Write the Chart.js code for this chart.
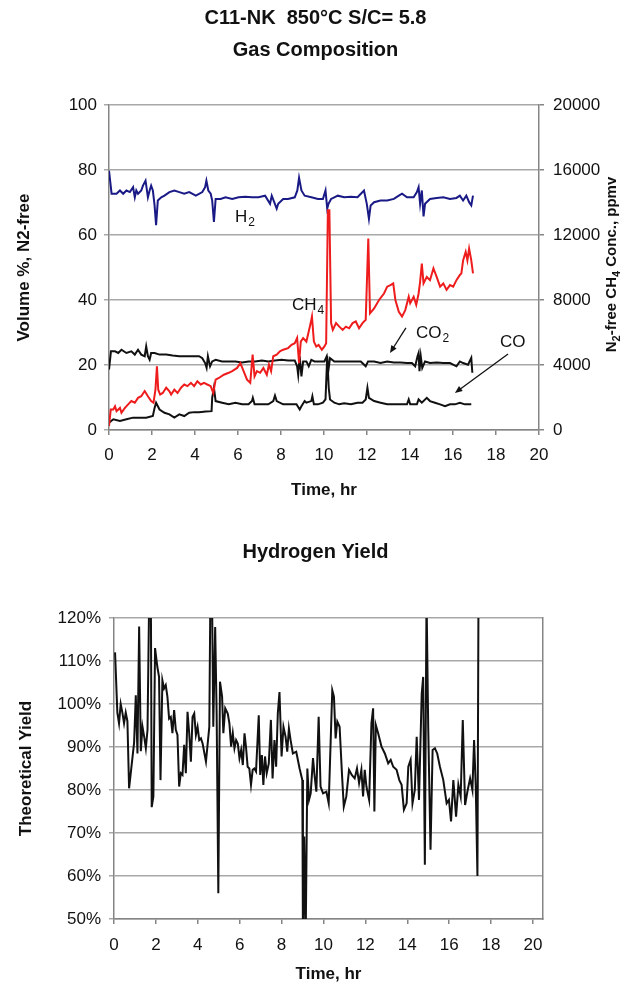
<!DOCTYPE html>
<html>
<head>
<meta charset="utf-8">
<script src="https://cdn.jsdelivr.net/npm/chart.js@4.4.1/dist/chart.umd.min.js"></script>
<style>
  html, body { margin: 0; padding: 0; background: #fff; }
  body { width: 631px; height: 991px; position: relative; overflow: hidden; }
  #gas { position: absolute; left: 0; top: 0; }
  #yield { position: absolute; left: 0; top: 510px; }
</style>
</head>
<body>
<canvas id="gas" width="631" height="510"></canvas>
<canvas id="yield" width="631" height="481"></canvas>
<script>
// time (hr), volume % N2-free
const h2 = [[0,79.8],[0.12,72.7],[0.35,72.7],[0.51,73.7],[0.66,72.7],[0.81,73.7],[0.97,73.2],[1.12,74.7],[1.2,71.6],[1.27,73.7],[1.35,72.7],[1.5,73.7],[1.58,75.2],[1.7,76.7],[1.81,71.6],[1.89,73.7],[1.96,75.2],[2.04,73.7],[2.12,69.1],[2.19,63],[2.27,70.6],[2.43,71.6],[2.58,72.1],[2.81,73.2],[3.04,73.7],[3.27,73.2],[3.5,72.7],[3.73,73.2],[4.04,72.1],[4.34,73.2],[4.47,74.7],[4.53,76.7],[4.62,73.7],[4.73,72.7],[4.8,70.6],[4.88,64],[4.96,71.1],[5.19,71.1],[5.42,71.6],[5.73,71.1],[6.03,71.6],[6.34,71.8],[6.65,71.6],[6.95,71.6],[7.26,72.1],[7.49,69.6],[7.57,72.1],[7.8,68.1],[7.87,69.6],[8.1,71.1],[8.33,71.1],[8.64,71.6],[8.76,73.7],[8.84,77.6],[8.95,73.7],[9.1,72.1],[9.41,71.6],[9.72,71.1],[9.95,71.1],[10.07,73.7],[10.15,68.1],[10.21,69.6],[10.33,71.1],[10.48,71.6],[10.64,72.1],[10.94,71.6],[11.25,71.8],[11.56,71.6],[11.86,73.7],[11.99,69.6],[12.09,65],[12.17,69.1],[12.33,70.1],[12.63,70.6],[12.94,70.6],[13.25,71.1],[13.48,72.1],[13.63,72.7],[13.86,71.6],[14.17,71.6],[14.32,73.2],[14.4,74.7],[14.47,69.6],[14.55,73.7],[14.63,65.7],[14.7,69.6],[14.93,71.1],[15.24,71.4],[15.55,71.6],[15.86,71.1],[16.16,71.4],[16.32,72.1],[16.47,70.6],[16.62,72.1],[16.75,70.1],[16.85,69.1],[16.93,72.1]];
const co2 = [[0,18.6],[0.09,24.2],[0.28,24.2],[0.43,23.7],[0.58,24.7],[0.81,23.7],[1.04,24.2],[1.2,23.2],[1.35,24.7],[1.5,23.2],[1.66,22.7],[1.73,25.7],[1.81,22.7],[1.89,21.6],[1.96,23.7],[2.12,23.7],[2.35,23.2],[2.66,23.2],[2.96,22.9],[3.27,22.7],[3.58,22.7],[3.88,22.7],[4.19,22.7],[4.34,22.1],[4.47,20.6],[4.54,19.1],[4.6,22.7],[4.7,19.6],[4.8,21.1],[4.96,21.6],[5.26,21.1],[5.57,21.1],[5.88,21.1],[6.19,20.8],[6.49,21.1],[6.8,21.1],[7.11,21.4],[7.41,21.1],[7.72,21.4],[8.03,21.6],[8.33,21.4],[8.64,21.4],[8.75,19.6],[8.8,17],[8.87,22.7],[8.95,16.5],[9.03,21.1],[9.18,21.1],[9.29,19.6],[9.41,21.6],[9.56,21.1],[9.79,21.1],[10.02,21.1],[10.13,22.7],[10.21,18.6],[10.28,22.1],[10.48,21.1],[10.79,21.1],[11.25,21.1],[11.71,21.1],[11.94,19.6],[12.05,21.1],[12.33,21.1],[12.63,20.6],[12.94,21.1],[13.25,20.8],[13.55,20.8],[13.86,20.6],[14.09,20.6],[14.24,19.6],[14.35,22.7],[14.4,23.7],[14.44,18.1],[14.5,22.7],[14.57,19.1],[14.7,21.1],[14.93,20.6],[15.24,20.8],[15.55,20.6],[15.86,20.6],[16.16,19.6],[16.32,21.1],[16.47,20.6],[16.7,20.1],[16.85,22.2],[16.9,17.6]];
const co = [[0,2.2],[0.2,3.3],[0.51,2.8],[0.81,3.3],[1.12,3.8],[1.43,3.8],[1.73,3.8],[2.04,4.3],[2.12,6.8],[2.19,8.4],[2.35,6.3],[2.58,5.3],[2.81,4.8],[3.04,3.8],[3.27,4.8],[3.5,4.3],[3.73,5.3],[3.96,5.5],[4.19,5.5],[4.5,5.7],[4.77,5.8],[4.8,9.9],[4.88,13],[4.96,8.9],[5.26,8.4],[5.57,7.9],[5.88,8.4],[6.19,7.9],[6.49,7.9],[6.65,8.9],[6.69,9.9],[6.77,7.9],[7.11,7.9],[7.41,7.9],[7.64,8.9],[7.72,10.6],[7.8,8.9],[8.1,7.9],[8.41,7.9],[8.72,7.9],[8.87,6.3],[8.95,7.3],[9.1,8.9],[9.18,8.4],[9.41,8.9],[9.46,10.4],[9.53,7.9],[9.72,7.9],[9.95,8.4],[10.07,9.4],[10.15,22.7],[10.22,13],[10.28,9.4],[10.48,8.4],[10.71,7.9],[10.94,8.2],[11.25,7.9],[11.56,8.4],[11.79,8.4],[11.94,9.4],[12.02,13],[12.09,9.9],[12.33,8.9],[12.63,8.4],[12.94,7.9],[13.25,7.9],[13.55,7.9],[13.86,7.9],[13.94,9.4],[14.01,7.9],[14.32,7.9],[14.4,9.4],[14.55,8.4],[14.78,9.9],[14.93,8.9],[15.16,8.4],[15.4,7.9],[15.63,7.3],[15.86,7.9],[16.09,7.9],[16.32,8.4],[16.55,7.9],[16.85,7.9]];
// time (hr), CH4 ppmv (right axis)
const ch4 = [[0,240],[0.08,1260],[0.2,1260],[0.28,1460],[0.35,1160],[0.51,1360],[0.58,1060],[0.74,1360],[0.89,1580],[1.04,1780],[1.2,1680],[1.35,1980],[1.5,2080],[1.66,2400],[1.81,2080],[1.96,1780],[2.07,1680],[2.16,2480],[2.23,3920],[2.29,2480],[2.38,2180],[2.5,2280],[2.66,2600],[2.81,2380],[2.89,2180],[3.04,2480],[3.19,2280],[3.35,2600],[3.5,2800],[3.65,2700],[3.81,2900],[3.96,2700],[4.11,3000],[4.27,2800],[4.42,2900],[4.57,2800],[4.73,2700],[4.85,2280],[4.96,3100],[5.11,3200],[5.34,3400],[5.57,3520],[5.73,3620],[5.96,3820],[6.11,4120],[6.26,3620],[6.42,3100],[6.57,2900],[6.68,4640],[6.77,3300],[6.88,3620],[7.03,3520],[7.18,3820],[7.34,3400],[7.44,4020],[7.54,3620],[7.64,4540],[7.8,4640],[7.95,4840],[8.1,4940],[8.33,5040],[8.49,5240],[8.64,5340],[8.75,5660],[8.84,4120],[8.92,5440],[9.03,5660],[9.18,5440],[9.29,6060],[9.38,6580],[9.44,6980],[9.53,5440],[9.64,5140],[9.75,5240],[9.9,4940],[10.02,5140],[10.1,5340],[10.18,13520],[10.25,13520],[10.33,6580],[10.41,6160],[10.56,6580],[10.71,6360],[10.87,6160],[11.02,6360],[11.17,6260],[11.33,6580],[11.48,6680],[11.63,6260],[11.79,6580],[11.94,6780],[12.06,11780],[12.14,7180],[12.33,7480],[12.56,8000],[12.79,8400],[12.94,8820],[13.09,8920],[13.22,9020],[13.32,8000],[13.48,7280],[13.63,6980],[13.78,7380],[13.94,8200],[14.01,7800],[14.17,8200],[14.29,7700],[14.4,8400],[14.47,9120],[14.55,10240],[14.63,9020],[14.78,9420],[14.93,9220],[15.09,9940],[15.24,9420],[15.4,8820],[15.55,9020],[15.7,8620],[15.86,8920],[16.01,8820],[16.16,9220],[16.32,9540],[16.39,9640],[16.47,10440],[16.59,10960],[16.67,10440],[16.75,11160],[16.85,10440],[16.93,9640]];
// time (hr), theoretical hydrogen yield %
const h2Yield = [[0.05,112],[0.16,98],[0.24,95.5],[0.32,100],[0.4,98],[0.48,95.5],[0.56,98],[0.64,96],[0.72,80.4],[0.96,91],[1.04,102],[1.12,88.5],[1.2,118],[1.28,89],[1.36,94.7],[1.44,92.4],[1.52,89.7],[1.6,94],[1.68,125],[1.76,125],[1.8,76],[1.88,78.5],[1.96,113],[2.07,108.6],[2.15,106.3],[2.22,82.3],[2.31,105.5],[2.39,103.6],[2.47,104.4],[2.55,101.7],[2.63,96.6],[2.71,97],[2.79,93.2],[2.87,98.6],[2.95,94],[3.03,92.8],[3.11,80.8],[3.19,83.9],[3.27,83.5],[3.35,90.5],[3.43,83.9],[3.51,98.2],[3.59,93.2],[3.67,86.6],[3.75,97],[3.83,97.8],[3.91,92.8],[3.99,94.7],[4.07,91.6],[4.15,92],[4.23,90.8],[4.39,86.6],[4.55,94.7],[4.6,125],[4.68,125],[4.74,94.7],[4.83,117.9],[4.9,97.8],[4.98,56],[5.06,105.2],[5.16,101.7],[5.22,93.2],[5.31,99],[5.43,97.8],[5.51,95.5],[5.59,90.1],[5.67,93.2],[5.75,89.7],[5.83,91.6],[5.91,90.8],[5.99,87.4],[6.07,89.3],[6.15,85.8],[6.23,93.2],[6.3,90.1],[6.38,85.4],[6.46,85],[6.54,81.2],[6.62,84.7],[6.7,85],[6.78,84.3],[6.91,97.4],[6.98,83.5],[7.06,88.1],[7.13,81.2],[7.21,87.8],[7.29,83.9],[7.39,86.2],[7.49,96.3],[7.57,82.7],[7.66,91.6],[7.74,85.4],[7.82,97.8],[7.9,102.8],[8.0,87.8],[8.09,94.7],[8.19,92.4],[8.27,88.9],[8.35,94.3],[8.43,91.6],[8.54,88.5],[8.7,88.9],[8.86,85],[8.99,82.3],[9.02,45],[9.08,69.2],[9.15,45],[9.23,85],[9.31,77.7],[9.39,79.2],[9.5,87.4],[9.58,83.1],[9.66,79.6],[9.77,97],[9.86,80.8],[9.98,79.2],[10.14,79.6],[10.25,76.9],[10.34,90.8],[10.42,103.2],[10.5,101.7],[10.58,92],[10.66,95.9],[10.77,94.7],[10.89,83.1],[10.97,76.1],[11.09,78.5],[11.22,84.7],[11.35,83.5],[11.49,82.7],[11.6,85],[11.7,81.6],[11.81,84.7],[11.89,78.5],[11.97,84.7],[12.05,80.8],[12.18,77.7],[12.29,95.5],[12.37,99],[12.43,75],[12.5,95.1],[12.61,93.2],[12.77,90.1],[12.93,88.5],[13.09,86.2],[13.21,87],[13.33,85.4],[13.49,84.7],[13.62,82.3],[13.73,81.2],[13.84,75.4],[13.97,76.9],[14.05,85.4],[14.16,87],[14.25,76.9],[14.36,80],[14.45,92.4],[14.56,77.7],[14.69,102.4],[14.76,106.3],[14.84,62.6],[14.92,125],[15.0,94.7],[15.11,66.1],[15.21,89.3],[15.32,89.7],[15.43,88.5],[15.56,85.4],[15.72,82.3],[15.88,76.9],[15.99,77.7],[16.09,72.7],[16.2,82.3],[16.33,73.8],[16.44,81.2],[16.55,78.5],[16.65,96.3],[16.76,76.5],[16.87,79.6],[17.0,82.7],[17.11,80],[17.19,91.6],[17.27,80.8],[17.35,60],[17.4,125]];

// in-chart labels (time, volume %) and arrows
const noteLabels = [
  { t: 5.86, v: 65.5, text: 'H', sub: '2' },
  { t: 8.51, v: 38.5, text: 'CH', sub: '4' },
  { t: 14.28, v: 29.8, text: 'CO', sub: '2' },
  { t: 18.19, v: 27.1, text: 'CO', sub: '' }
];
const noteArrows = [
  { from: [13.81, 31.4], to: [13.07, 23.7] },
  { from: [18.56, 23.4], to: [16.09, 11.4] }
];
// right axis title, split into [text, isSubscript]
const rightTitle = [['N', false], ['2', true], ['-free CH', false], ['4', true], [' Conc., ppmv', false]];

const FONT = "'Liberation Sans', Arial, sans-serif";
const GRID = '#a8a8a8';
const FRAME = '#858585';

const toXY = arr => arr.map(p => ({ x: p[0], y: p[1] }));

const notesPlugin = {
  id: 'notes',
  afterDatasetsDraw(chart) {
    const { ctx, scales } = chart;
    const xs = scales.x, ys = scales.y;
    ctx.save();
    ctx.fillStyle = '#111';
    ctx.strokeStyle = '#111';
    ctx.textBaseline = 'middle';
    ctx.textAlign = 'left';
    noteLabels.forEach(n => {
      const x = xs.getPixelForValue(n.t), y = ys.getPixelForValue(n.v);
      ctx.font = '17px ' + FONT;
      ctx.fillText(n.text, x, y);
      if (n.sub) {
        const w = ctx.measureText(n.text).width;
        ctx.font = '12px ' + FONT;
        ctx.fillText(n.sub, x + w + 1, y + 6);
      }
    });
    ctx.lineWidth = 1.3;
    noteArrows.forEach(a => {
      const x1 = xs.getPixelForValue(a.from[0]), y1 = ys.getPixelForValue(a.from[1]);
      const x2 = xs.getPixelForValue(a.to[0]), y2 = ys.getPixelForValue(a.to[1]);
      const ang = Math.atan2(y2 - y1, x2 - x1);
      ctx.beginPath();
      ctx.moveTo(x1, y1);
      ctx.lineTo(x2 - 5 * Math.cos(ang), y2 - 5 * Math.sin(ang));
      ctx.stroke();
      ctx.beginPath();
      ctx.moveTo(x2, y2);
      ctx.lineTo(x2 - 8 * Math.cos(ang - 0.4), y2 - 8 * Math.sin(ang - 0.4));
      ctx.lineTo(x2 - 8 * Math.cos(ang + 0.4), y2 - 8 * Math.sin(ang + 0.4));
      ctx.closePath();
      ctx.fill();
    });

    // right axis title, reading bottom to top like the left one
    const area = chart.chartArea;
    const big = 'bold 15px ' + FONT, small = 'bold 11px ' + FONT;
    let total = 0;
    rightTitle.forEach(([s, sub]) => { ctx.font = sub ? small : big; total += ctx.measureText(s).width; });
    ctx.translate(612, (area.top + area.bottom) / 2 - 3);
    ctx.rotate(-Math.PI / 2);
    let u = -total / 2;
    rightTitle.forEach(([s, sub]) => {
      ctx.font = sub ? small : big;
      ctx.fillText(s, u, sub ? 5 : 0);
      u += ctx.measureText(s).width;
    });
    ctx.restore();
  }
};

const whiteBg = {
  id: 'whiteBg',
  beforeDraw(chart) {
    const ctx = chart.ctx;
    ctx.save();
    ctx.fillStyle = '#fff';
    ctx.fillRect(0, 0, chart.width, chart.height);
    ctx.restore();
  }
};

function lineSet(data, color, axis) {
  return {
    data: toXY(data),
    borderColor: color,
    borderWidth: 2,
    pointRadius: 0,
    tension: 0,
    yAxisID: axis
  };
}

const tickFont = { family: FONT, size: 17 };
const titleFont = { family: FONT, size: 17, weight: 'bold' };

new Chart(document.getElementById('gas'), {
  type: 'line',
  data: {
    datasets: [
      lineSet(ch4, '#ee1c1c', 'y2'),
      lineSet(h2, '#1a1a86', 'y'),
      lineSet(co2, '#111111', 'y'),
      lineSet(co, '#111111', 'y')
    ]
  },
  options: {
    responsive: false,
    animation: false,
    layout: { padding: 0 },
    plugins: {
      legend: { display: false },
      tooltip: { enabled: false },
      title: {
        display: true,
        text: ['C11-NK  850°C S/C= 5.8', 'Gas Composition'],
        color: '#111',
        font: { family: FONT, size: 20, weight: 'bold', lineHeight: 1.6 },
        padding: { top: 2, bottom: 39 }
      }
    },
    scales: {
      x: {
        type: 'linear',
        min: 0, max: 20,
        ticks: { stepSize: 2, color: '#111', font: tickFont, padding: 10, maxRotation: 0 },
        grid: { drawOnChartArea: false, color: FRAME, tickLength: 5, lineWidth: 1.5 },
        border: { color: FRAME, width: 1.5 },
        title: { display: true, text: 'Time, hr', color: '#111', font: titleFont, padding: { top: 0, bottom: 9 } },
        afterFit: s => { s.height = 80; }
      },
      y: {
        position: 'left',
        min: 0, max: 100,
        ticks: { stepSize: 20, color: '#111', font: tickFont, padding: 7 },
        grid: { color: GRID, lineWidth: 1.5, tickLength: 5 },
        border: { color: FRAME, width: 1.5 },
        title: { display: true, text: 'Volume %, N2-free', color: '#111', font: titleFont, padding: { top: 14, bottom: 0 } },
        afterFit: s => { s.width = 109; }
      },
      y2: {
        position: 'right',
        min: 0, max: 20000,
        ticks: { stepSize: 4000, color: '#111', font: tickFont, padding: 9, callback: v => String(v) },
        grid: { drawOnChartArea: false, color: FRAME, lineWidth: 1.5, tickLength: 5 },
        border: { color: FRAME, width: 1.5 },
        afterFit: s => { s.width = 92; }
      }
    }
  },
  plugins: [whiteBg, notesPlugin]
});

new Chart(document.getElementById('yield'), {
  type: 'line',
  data: {
    datasets: [lineSet(h2Yield, '#111111', 'y')]
  },
  options: {
    responsive: false,
    animation: false,
    layout: { padding: 0 },
    plugins: {
      legend: { display: false },
      tooltip: { enabled: false },
      title: {
        display: true,
        text: 'Hydrogen Yield',
        color: '#111',
        font: { family: FONT, size: 20, weight: 'bold', lineHeight: 1.2 },
        padding: { top: 30, bottom: 54 }
      }
    },
    scales: {
      x: {
        type: 'linear',
        min: 0, max: 20.48,
        ticks: { stepSize: 2, includeBounds: false, color: '#111', font: tickFont, padding: 11, maxRotation: 0 },
        grid: { drawOnChartArea: false, color: FRAME, tickLength: 5, lineWidth: 1.5 },
        border: { color: FRAME, width: 1.5 },
        title: { display: true, text: 'Time, hr', color: '#111', font: titleFont, padding: { top: 0, bottom: 6 } },
        afterFit: s => { s.height = 72; }
      },
      y: {
        position: 'left',
        min: 50, max: 120,
        ticks: { stepSize: 10, color: '#111', font: tickFont, padding: 8, callback: v => v + '%' },
        grid: { color: GRID, lineWidth: 1.5, tickLength: 5 },
        border: { color: FRAME, width: 1.5 },
        title: { display: true, text: 'Theoretical Yield', color: '#111', font: titleFont, padding: { top: 16, bottom: 0 } },
        afterFit: s => { s.width = 114; }
      },
      yR: {
        position: 'right',
        min: 0, max: 1,
        ticks: { display: false },
        grid: { drawOnChartArea: false, drawTicks: false },
        border: { color: FRAME, width: 1.5 },
        afterFit: s => { s.width = 88; }
      }
    }
  },
  plugins: [whiteBg]
});
</script>
</body>
</html>
